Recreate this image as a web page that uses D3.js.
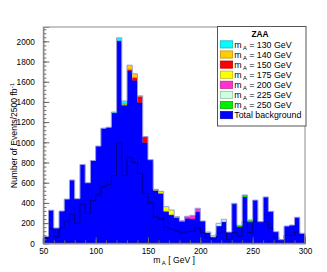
<!DOCTYPE html>
<html>
<head>
<meta charset="utf-8">
<script src="https://cdn.jsdelivr.net/npm/d3@7"></script>
<style>
body { margin: 0; background: #fff; }
text { font-family: "Liberation Sans", Arial, Helvetica, sans-serif; }
</style>
</head>
<body>
<div id="chart"></div>
<script>
// bin low edges, 5 GeV bins from 50 to 300
var binLow = d3.range(50, 300, 5);

// total background per bin
var bkgTotal = [68, 328, 152, 320, 438, 627, 442, 781, 600, 820,
                963, 1140, 1150, 1292, 2005, 1365, 1710, 1615, 1395, 997,
                828, 525, 495, 318, 283, 254, 216, 248, 240, 313,
                221, 107, 62, 171, 214, 112, 390, 162, 459, 211,
                428, 214, 459, 317, 115, 36, 171, 181, 258, 99];
// stacked background components (cumulative, drawn as dark outlines)
var bkgInner = [50, 150, 63, 155, 220, 287, 198, 388, 295, 425,
                479, 560, 585, 670, 992, 670, 850, 798, 692, 494,
                400, 262, 241, 158, 139, 122, 102, 115, 118, 152,
                105, 59, 40, 99, 112, 40, 105, 72, 214, 105,
                214, 214, 214, 149, 59, 36, 79, 79, 112, 79];
var bkgLow = [2, 4, 5, 6, 8, 10, 10, 12, 12, 13,
              14, 14, 13, 12, 12, 11, 10, 10, 9, 8,
              7, 6, 6, 5, 5, 5, 4, 4, 4, 4,
              3, 3, 3, 3, 3, 3, 3, 3, 3, 3,
              3, 3, 3, 3, 3, 3, 3, 3, 3, 3];

// signal contributions stacked on top of background
var sig130 = [0,0,0,0,0,0,0,0,0,0, 0,0,0,8,30,30,0,0,0,0, 0,0,0,0,0,0,0,0,0,0, 0,0,0,0,0,0,0,0,0,0, 0,0,0,0,0,0,0,0,0,0];
var sig140 = [0,0,0,0,0,0,0,0,0,0, 0,0,0,0,0,10,42,37,5,0, 0,5,4,0,0,0,0,0,0,0, 0,0,0,0,0,0,0,0,0,0, 0,0,0,0,0,0,0,0,0,0];
var sig150 = [0,0,0,0,0,0,0,0,0,0, 0,0,0,0,0,5,12,26,60,60, 0,0,0,0,0,0,0,0,0,0, 0,0,0,0,0,0,0,0,0,0, 0,0,0,0,0,0,0,0,0,0];
var sig175 = [0,0,0,0,0,0,0,0,0,0, 0,0,0,0,0,0,0,0,0,0, 0,5,16,45,47,5,0,0,0,0, 0,0,0,0,0,0,0,0,0,0, 0,0,0,0,0,0,0,0,0,0];
var sig200 = [0,0,0,0,0,0,0,0,0,0, 0,0,0,0,0,0,0,0,0,0, 0,0,0,0,0,5,8,20,37,34, 0,0,0,0,0,0,0,0,0,0, 0,0,0,0,0,0,0,0,0,0];
var sig225 = [0,0,0,0,0,0,0,0,0,0, 0,0,0,0,0,0,0,0,0,0, 0,0,0,0,0,0,0,0,0,0, 0,5,13,27,24,0,0,0,0,0, 0,0,0,0,0,0,0,0,0,0];
var sig250 = [0,0,0,0,0,0,0,0,0,0, 0,0,0,0,0,0,0,0,0,0, 0,0,0,0,0,0,0,0,0,0, 0,0,0,0,0,0,6,16,20,20, 0,0,0,0,0,0,0,0,0,0];

var masses = [130, 140, 150, 175, 200, 225, 250];
var sigColors = ["#00ffff", "#ffcc00", "#ff0000", "#ffff00", "#ff33cc", "#ccffdd", "#00ee00"];
var bkgColor = "#0000ff";

var xTicks = d3.range(50, 301, 50);
var yTicks = d3.range(0, 2001, 200);

var W = 327, H = 272;
var svg = d3.select("#chart").append("svg").attr("width", W).attr("height", H);

var x = d3.scaleLinear().domain([50, 300]).range([43.3, 305]);
var y = d3.scaleLinear().domain([0, 2142]).range([243.3, 27]);

// build rows for d3.stack, bottom-up: background, then 250 ... 130
var sigArrays = [sig130, sig140, sig150, sig175, sig200, sig225, sig250];
var keys = ["bkg"].concat(masses.slice().reverse().map(function(m) { return "s" + m; }));
var rows = binLow.map(function(b, i) {
	var r = { lo: b, bkg: bkgTotal[i] };
	masses.forEach(function(m, j) { r["s" + m] = sigArrays[j][i]; });
	return r;
});
// extra point at upper edge so the steps close at 300
rows.push(Object.assign({}, rows[rows.length - 1], { lo: 300 }));

var stacked = d3.stack().keys(keys)(rows);
var colorOf = { bkg: bkgColor };
masses.forEach(function(m, j) { colorOf["s" + m] = sigColors[j]; });

var area = d3.area()
	.curve(d3.curveStepAfter)
	.x(function(d) { return x(d.data.lo); })
	.y0(function(d) { return y(d[0]); })
	.y1(function(d) { return y(d[1]); });

svg.append("g").selectAll("path")
	.data(stacked)
	.enter().append("path")
	.attr("d", area)
	.attr("fill", function(d) { return colorOf[d.key]; })
	.attr("stroke", "none");

// step outlines
function stepPts(vals) {
	var pts = [[50, 0]];
	vals.forEach(function(v, i) { pts.push([binLow[i], v]); });
	pts.push([300, vals[vals.length - 1]]);
	return pts;
}
var stepLine = d3.line()
	.curve(d3.curveStepAfter)
	.x(function(d) { return x(d[0]); })
	.y(function(d) { return y(d[1]); });

function closePath(vals) {
	return stepLine(stepPts(vals)) + "V" + y(0);
}

svg.append("path").attr("d", closePath(bkgLow))
	.attr("fill", "none").attr("stroke", "#00006a").attr("stroke-width", 0.7);
svg.append("path").attr("d", closePath(bkgInner))
	.attr("fill", "none").attr("stroke", "#00006a").attr("stroke-width", 0.8);

// dark edge on signal slices
stacked.slice(1).forEach(function(layer) {
	svg.append("g").selectAll("line")
		.data(layer.slice(0, 50).filter(function(d) { return d[1] - d[0] > 0; }))
		.enter().append("line")
		.attr("x1", function(d) { return x(d.data.lo); })
		.attr("x2", function(d) { return x(d.data.lo + 5); })
		.attr("y1", function(d) { return y(d[0]); })
		.attr("y2", function(d) { return y(d[0]); })
		.attr("stroke", d3.color(colorOf[layer.key]).darker(1.2))
		.attr("stroke-width", 0.6);
});

// outline of the full stack
var topVals = stacked[stacked.length - 1].slice(0, 50).map(function(d) { return d[1]; });
svg.append("path").attr("d", closePath(topVals))
	.attr("fill", "none").attr("stroke", "#9b9be0").attr("stroke-width", 1);

// frame
svg.append("rect")
	.attr("x", x(50)).attr("y", y(2142))
	.attr("width", x(300) - x(50)).attr("height", y(0) - y(2142))
	.attr("fill", "none").attr("stroke", "#8c8c8c").attr("stroke-width", 1);

// axes, ticks pointing inward
function styleAxis(g) {
	g.select(".domain").attr("stroke", "#8c8c8c");
	g.selectAll(".tick line").attr("stroke", "#666");
	g.selectAll("text").attr("fill", "#000").style("font-family", '"Liberation Sans", Arial, sans-serif');
}

var gy = svg.append("g").attr("transform", "translate(" + x(50) + ",0)");
gy.call(d3.axisLeft(y).tickValues(d3.range(0, 2142, 40)).tickSize(-3).tickFormat("")).call(styleAxis);
var gy2 = svg.append("g").attr("transform", "translate(" + x(50) + ",0)");
gy2.call(d3.axisLeft(y).tickValues(yTicks).tickSize(-6).tickPadding(8.5).tickFormat(d3.format("d"))).call(styleAxis);
gy2.selectAll("text").attr("font-size", 8.2).attr("dy", "0.35em");

var gx = svg.append("g").attr("transform", "translate(0," + y(0) + ")");
gx.call(d3.axisBottom(x).tickValues(d3.range(50, 301, 10)).tickSize(-3).tickFormat("")).call(styleAxis);
var gx2 = svg.append("g").attr("transform", "translate(0," + y(0) + ")");
gx2.call(d3.axisBottom(x).tickValues(xTicks).tickSize(-6).tickPadding(4).tickFormat(d3.format("d"))).call(styleAxis);
gx2.selectAll("text").attr("font-size", 8.2).attr("y", 10.3).attr("dy", 0);

// axis titles
var xt = svg.append("text")
	.attr("x", x(175)).attr("y", 262.5)
	.attr("text-anchor", "middle").attr("font-size", 8.6);
xt.append("tspan").text("m");
xt.append("tspan").attr("dy", 2.5).attr("font-size", 6).text(" A");
xt.append("tspan").attr("dy", -2.5).text(" [ GeV ]");

var yt = svg.append("text")
	.attr("transform", "translate(16.5,83) rotate(-90)")
	.attr("text-anchor", "end").attr("font-size", 8.6);
yt.append("tspan").text("Number of Events/2500 fb");
yt.append("tspan").attr("dy", -3).attr("font-size", 6).text("-1");

// legend
var lg = svg.append("g");
lg.append("rect")
	.attr("x", 217.5).attr("y", 26.5).attr("width", 88.5).attr("height", 99.5)
	.attr("fill", "#fff").attr("stroke", "#555").attr("stroke-width", 1);
lg.append("text")
	.attr("x", 260).attr("y", 36.5).attr("text-anchor", "middle")
	.attr("font-size", 8.4).attr("font-weight", "bold").text("ZAA");

var legendItems = masses.map(function(m, j) { return { mass: m, color: sigColors[j] }; });
legendItems.push({ mass: null, color: bkgColor });

var items = lg.selectAll(".item")
	.data(legendItems)
	.enter().append("g")
	.attr("class", "item")
	.attr("transform", function(d, i) { return "translate(0," + (44.4 + i * 10.1) + ")"; });
items.append("rect")
	.attr("x", 220.3).attr("y", -3.6).attr("width", 12.4).attr("height", 7.2)
	.attr("fill", function(d) { return d.color; })
	.attr("stroke", function(d) { return d3.color(d.color).darker(1); })
	.attr("stroke-width", 0.7);
items.each(function(d) {
	var t = d3.select(this).append("text")
		.attr("x", 234.3).attr("y", 3.1).attr("font-size", 8.8);
	if (d.mass === null) {
		t.text("Total background");
	} else {
		t.append("tspan").text("m");
		t.append("tspan").attr("dy", 2.3).attr("font-size", 5.8).text(" A");
		t.append("tspan").attr("dy", -2.3).text(" = " + d.mass + " GeV");
	}
});
</script>
</body>
</html>
